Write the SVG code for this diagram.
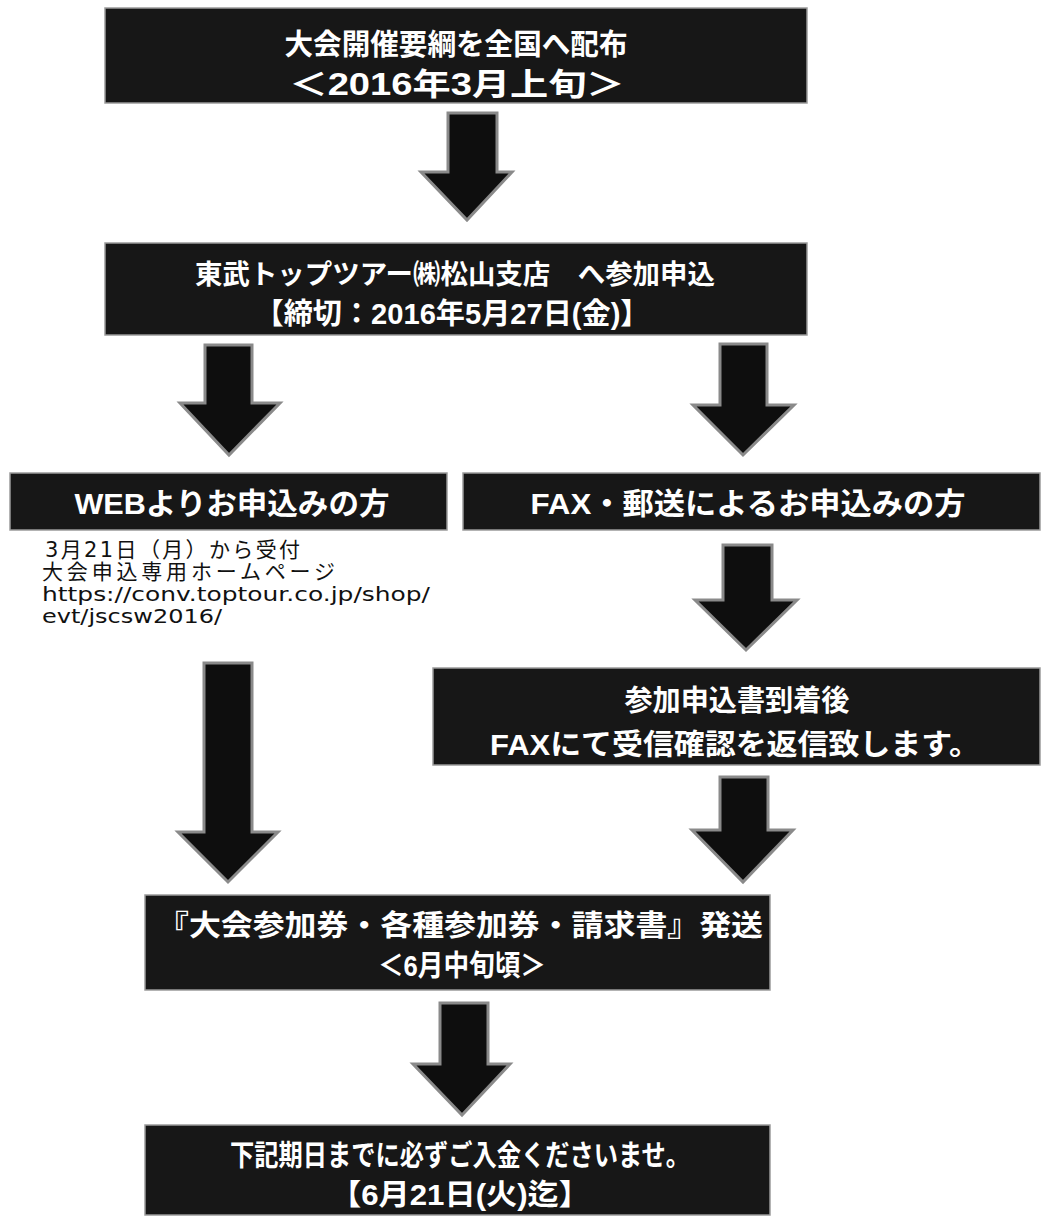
<svg xmlns="http://www.w3.org/2000/svg" width="1054" height="1218" viewBox="0 0 1054 1218">
<style>
.box{fill:#171717;stroke:#9a9a9a;stroke-width:1.5}
.t{font-family:"Liberation Sans","Noto Sans CJK JP",sans-serif;font-weight:bold;fill:#ffffff;text-anchor:middle}
.s{font-family:"DejaVu Sans","Noto Sans CJK JP",sans-serif;fill:#111}
.arr{fill:#0e0e0e;stroke:#8a8a8a;stroke-width:3;stroke-linejoin:miter}
</style>
<rect width="1054" height="1218" fill="#ffffff"/>
<g id="connectors">
<polygon class="arr" points="448,113 497,113 497,172 512,172 467,220 421,172 448,172"/>
<polygon class="arr" points="205,345 252,345 252,403 280,403 229,455 180,403 205,403"/>
<polygon class="arr" points="720,344 767,344 767,405 794,405 743,455 693,405 720,405"/>
<polygon class="arr" points="723,545 772,545 772,600 797,600 746,650 695,600 723,600"/>
<polygon class="arr" points="204,663 252,663 252,832 278,832 228,882 178,832 204,832"/>
<polygon class="arr" points="720,777 768,777 768,830 793,830 743,882 692,830 720,830"/>
<polygon class="arr" points="440,1003 488,1003 488,1064 510,1064 462,1115 413,1064 440,1064"/>
</g>
<g id="n1">
<rect class="box" x="105" y="8" width="702" height="95"/>
<text class="t" x="456" y="55" font-size="29" textLength="343" lengthAdjust="spacingAndGlyphs">大会開催要綱を全国へ配布</text>
<text class="t" x="457" y="95" font-size="31" textLength="335" lengthAdjust="spacingAndGlyphs">＜2016年3月上旬＞</text>
</g>
<g id="n2">
<rect class="box" x="105" y="243" width="702" height="92"/>
<text class="t" x="455" y="284" font-size="27" textLength="520" lengthAdjust="spacingAndGlyphs">東武トップツアー㈱松山支店　へ参加申込</text>
<text class="t" x="452" y="324" font-size="29" textLength="395" lengthAdjust="spacingAndGlyphs">【締切：2016年5月27日(金)】</text>
</g>
<g id="n3">
<rect class="box" x="10" y="473" width="437" height="57"/>
<text class="t" x="232" y="514" font-size="30" textLength="315" lengthAdjust="spacingAndGlyphs">WEBよりお申込みの方</text>
<text class="s" x="45" y="557" font-size="21" textLength="255" lengthAdjust="spacing">3月21日（月）から受付</text>
<text class="s" x="42" y="579" font-size="21" textLength="293" lengthAdjust="spacing">大会申込専用ホームページ</text>
<text class="s" x="42" y="601" font-size="20" textLength="388" lengthAdjust="spacingAndGlyphs">https://conv.toptour.co.jp/shop/</text>
<text class="s" x="42" y="623" font-size="20" textLength="180" lengthAdjust="spacingAndGlyphs">evt/jscsw2016/</text>
</g>
<g id="n4">
<rect class="box" x="463" y="473" width="577" height="57"/>
<text class="t" x="748" y="514" font-size="30" textLength="435" lengthAdjust="spacingAndGlyphs">FAX・郵送によるお申込みの方</text>
</g>
<g id="n5">
<rect class="box" x="433" y="668" width="607" height="97"/>
<text class="t" x="737" y="711" font-size="29" textLength="225" lengthAdjust="spacingAndGlyphs">参加申込書到着後</text>
<text class="t" x="735" y="755" font-size="29" textLength="490" lengthAdjust="spacingAndGlyphs">FAXにて受信確認を返信致します。</text>
</g>
<g id="n6">
<rect class="box" x="145" y="895" width="625" height="95"/>
<text class="t" x="460" y="936" font-size="29" textLength="606" lengthAdjust="spacingAndGlyphs">『大会参加券・各種参加券・請求書』発送</text>
<text class="t" x="462" y="976" font-size="29" textLength="168" lengthAdjust="spacingAndGlyphs">＜6月中旬頃＞</text>
</g>
<g id="n7">
<rect class="box" x="145" y="1125" width="625" height="90"/>
<text class="t" x="460" y="1166" font-size="29" textLength="460" lengthAdjust="spacingAndGlyphs">下記期日までに必ずご入金くださいませ。</text>
<text class="t" x="460" y="1205" font-size="29" textLength="260" lengthAdjust="spacingAndGlyphs">【6月21日(火)迄】</text>
</g>
</svg>
